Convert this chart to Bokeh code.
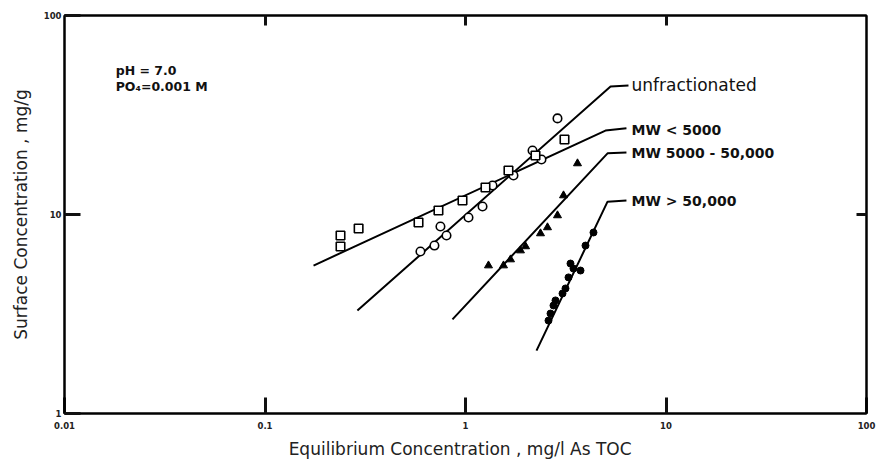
from bokeh.plotting import figure
from bokeh.models import LogAxis, FixedTicker, Label, Range1d, ColumnDataSource
from bokeh.core.properties import value
from bokeh.embed import file_html
from bokeh.resources import INLINE

# ---- axes ----
x_ticks = [0.01, 0.1, 1, 10, 100]
x_tick_labels = ["0.01", "0.1", "1", "10", "100"]
y_ticks = [1, 10, 100]
y_tick_labels = ["1", "10", "100"]

# ---- data: unfractionated (open circles) ----
unfr_x = [0.596, 0.700, 0.750, 0.804, 1.035, 1.216, 1.364, 1.735, 2.159, 2.393, 2.876]
unfr_y = [6.52, 6.98, 8.70, 7.84, 9.66, 10.97, 13.99, 15.7, 20.97, 18.9, 30.4]

# ---- MW < 5000 (open squares) ----
lt5k_x = [0.238, 0.238, 0.293, 0.583, 0.733, 0.966, 1.258, 1.638, 2.234, 3.117]
lt5k_y = [7.84, 6.91, 8.51, 9.12, 10.47, 11.76, 13.67, 16.64, 19.8, 23.8]

# ---- MW 5000 - 50,000 (filled triangles) ----
mid_x = [1.302, 1.547, 1.677, 1.880, 1.993, 2.366, 2.564, 2.876, 3.082, 3.619]
mid_y = [5.54, 5.54, 5.94, 6.59, 6.91, 8.03, 8.61, 9.89, 12.46, 18.05]

# ---- MW > 50,000 (filled circles) ----
gt50k_x = [2.594, 2.655, 2.747, 2.811, 3.047, 3.153, 3.264, 3.339, 3.456, 3.746, 3.968, 4.349]
gt50k_y = [2.93, 3.18, 3.49, 3.70, 4.01, 4.25, 4.83, 5.67, 5.35, 5.23, 6.98, 8.12]

# ---- fitted isotherm lines (with leader to label) ----
unfr_line_x = [0.289, 5.29, 6.50]
unfr_line_y = [3.29, 44.0, 44.5]
lt5k_line_x = [0.1746, 4.99, 6.35]
lt5k_line_y = [5.54, 26.4, 27.1]
mid_line_x = [0.861, 5.11, 6.35]
mid_line_y = [2.97, 20.3, 20.5]
gt50k_line_x = [2.26, 5.11, 6.35]
gt50k_line_y = [2.07, 11.6, 11.75]

series_labels = ["unfractionated", "MW  < 5000", "MW 5000 - 50,000", "MW  > 50,000"]
label_x = [6.73, 6.73, 6.73, 6.73]
label_y = [44.5, 26.7, 20.3, 11.75]

FONT = "DejaVu Sans"

p = figure(width=878, height=463, x_axis_type="log", y_axis_type="log",
           x_range=Range1d(0.01, 100), y_range=Range1d(1, 100),
           output_backend="svg", toolbar_location=None,
           min_border_left=64, min_border_right=12, min_border_top=15, min_border_bottom=50)
p.xgrid.visible = False
p.ygrid.visible = False
p.outline_line_color = "black"
p.outline_line_width = 2

xa = p.xaxis[0]
xa.ticker = FixedTicker(ticks=x_ticks, minor_ticks=[])
xa.major_label_overrides = dict(zip(x_ticks, x_tick_labels))
xa.axis_label = "Equilibrium Concentration , mg/l  As  TOC"
ya = p.yaxis[0]
ya.ticker = FixedTicker(ticks=y_ticks, minor_ticks=[])
ya.major_label_overrides = dict(zip(y_ticks, y_tick_labels))
ya.axis_label = "Surface Concentration , mg/g"

for ax in (xa, ya):
    ax.axis_line_width = 2
    ax.axis_line_color = "black"
    ax.major_tick_in = 16
    ax.major_tick_out = 0
    ax.major_tick_line_width = 3
    ax.major_tick_line_color = "#111111"
    ax.major_label_text_font = FONT
    ax.major_label_text_font_size = "8.5px"
    ax.major_label_text_font_style = "bold"
    ax.major_label_text_color = "#222222"
    ax.axis_label_text_font = FONT
    ax.axis_label_text_font_size = "17px"
    ax.axis_label_text_font_style = "normal"
    ax.axis_label_text_color = "#222222"

xa.major_label_standoff = 8
xa.axis_label_standoff = 7
ya.major_label_standoff = 3
ya.axis_label_standoff = 10

top = LogAxis(ticker=FixedTicker(ticks=x_ticks[1:-1], minor_ticks=[]),
              major_label_text_color=None, major_tick_in=10, major_tick_out=0,
              major_tick_line_width=3, major_tick_line_color="#111111",
              axis_line_width=2, major_label_text_font_size="1px")
right = LogAxis(ticker=FixedTicker(ticks=y_ticks[1:-1], minor_ticks=[]),
                major_label_text_color=None, major_tick_in=10, major_tick_out=0,
                major_tick_line_width=3, major_tick_line_color="#111111",
                axis_line_width=2, major_label_text_font_size="1px")
p.add_layout(top, "above")
p.add_layout(right, "right")

for lx, ly in ((unfr_line_x, unfr_line_y), (lt5k_line_x, lt5k_line_y),
               (mid_line_x, mid_line_y), (gt50k_line_x, gt50k_line_y)):
    p.line(lx, ly, line_color="black", line_width=2)

p.scatter(unfr_x, unfr_y, marker="circle", size=8.5, fill_color="white",
          line_color="black", line_width=1.6)
p.scatter(lt5k_x, lt5k_y, marker="square", size=8.5, fill_color="white",
          line_color="black", line_width=1.6)
p.scatter(mid_x, mid_y, marker="triangle", size=8, fill_color="black",
          line_color="black", line_width=1)
p.scatter(gt50k_x, gt50k_y, marker="circle", size=7, fill_color="black",
          line_color="black", line_width=1)

src = ColumnDataSource(dict(x=label_x, y=label_y, t=series_labels,
                            w=["normal", "bold", "bold", "bold"],
                            s=["17px", "14px", "14px", "14px"]))
p.text(x="x", y="y", text="t", source=src, text_baseline="middle", text_align="left",
       text_font=value(FONT), text_font_size="s", text_font_style="w",
       text_color="#111111")

p.add_layout(Label(x=0.018, y=52.9, text="pH = 7.0", text_baseline="middle",
                   text_font=FONT, text_font_size="12.5px", text_font_style="bold",
                   text_color="#111111"))
p.add_layout(Label(x=0.018, y=44.0, text="PO₄=0.001 M", text_baseline="middle",
                   text_font=FONT, text_font_size="12.5px", text_font_style="bold",
                   text_color="#111111"))

open("out.html", "w").write(file_html(p, INLINE))
